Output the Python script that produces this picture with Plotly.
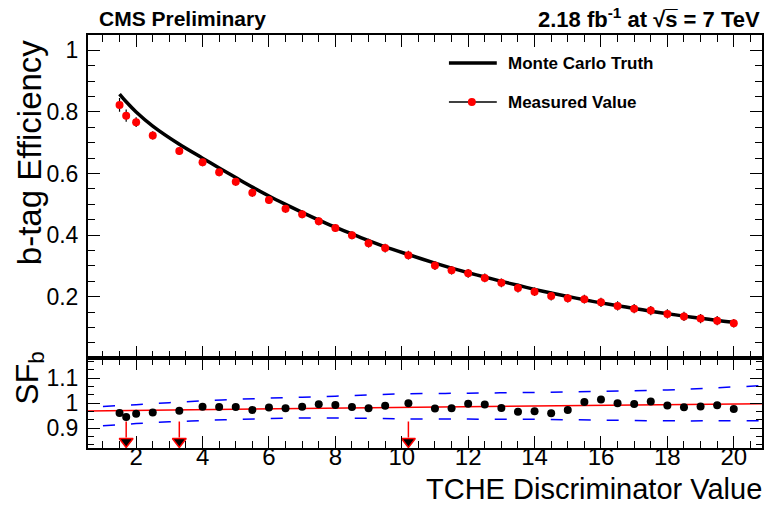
import plotly.graph_objects as go

# ---------------- data ----------------
x_pts = [1.5, 1.7, 2.0, 2.5, 3.3, 4.0, 4.5, 5.0, 5.5, 6.0, 6.5, 7.0, 7.5, 8.0, 8.5, 9.0, 9.5,
         10.2, 11.0, 11.5, 12.0, 12.5, 13.0, 13.5, 14.0, 14.5, 15.0, 15.5, 16.0, 16.5, 17.0,
         17.5, 18.0, 18.5, 19.0, 19.5, 20.0]
eff_meas = [0.823, 0.788, 0.767, 0.724, 0.673, 0.637, 0.604, 0.573, 0.538, 0.514, 0.486, 0.468,
            0.445, 0.423, 0.400, 0.374, 0.358, 0.335, 0.301, 0.286, 0.276, 0.261, 0.245, 0.228,
            0.216, 0.202, 0.195, 0.192, 0.182, 0.170, 0.161, 0.155, 0.144, 0.136, 0.129, 0.122,
            0.114]
eff_err = [0.022, 0.020, 0.016, 0.013, 0.013, 0.013, 0.013, 0.013, 0.013, 0.013, 0.013, 0.013,
           0.013, 0.013, 0.013, 0.014, 0.014, 0.014, 0.014, 0.014, 0.014, 0.014, 0.014, 0.014,
           0.014, 0.014, 0.014, 0.014, 0.015, 0.015, 0.015, 0.015, 0.015, 0.015, 0.015, 0.015,
           0.014]
eff_mc = [0.858, 0.833, 0.800, 0.754, 0.695, 0.650, 0.618, 0.587, 0.556, 0.527, 0.500, 0.474,
          0.449, 0.426, 0.404, 0.382, 0.362, 0.337, 0.309, 0.293, 0.278, 0.264, 0.250, 0.237,
          0.224, 0.212, 0.201, 0.190, 0.180, 0.171, 0.162, 0.153, 0.145, 0.137, 0.130, 0.123,
          0.117]
sf_vals = [0.960, 0.944, 0.957, 0.962, 0.970, 0.986, 0.985, 0.985, 0.973, 0.983, 0.980, 0.986,
           0.996, 0.993, 0.985, 0.980, 0.990, 1.000, 0.979, 0.980, 0.998, 0.995, 0.981, 0.965,
           0.968, 0.959, 0.973, 1.005, 1.015, 1.000, 0.997, 1.007, 0.991, 0.984, 0.987, 0.992,
           0.977]

fit_x = [0.55, 20.85]
fit_y = [0.969, 0.998]

band_x = [1.0, 2.0, 3.0, 4.0, 5.0, 6.0, 7.0, 8.0, 9.0, 10.0, 12.0, 14.0, 16.0, 18.0, 19.5, 20.85]
band_up = [0.987, 0.994, 1.002, 1.009, 1.015, 1.020, 1.024, 1.028, 1.033, 1.037, 1.040, 1.043,
           1.047, 1.053, 1.062, 1.070]
band_lo = [0.909, 0.918, 0.925, 0.930, 0.935, 0.938, 0.940, 0.940, 0.939, 0.937, 0.936, 0.935,
           0.932, 0.929, 0.929, 0.929]

op_points = [1.7, 3.3, 10.2]          # working points (arrows)
arrow_top, arrow_bot, arrow_head = 0.926, 0.862, 0.846

x_ticks = [2, 4, 6, 8, 10, 12, 14, 16, 18, 20]
eff_ticks = [0.2, 0.4, 0.6, 0.8, 1.0]
eff_ticktext = ["0.2", "0.4", "0.6", "0.8", "1"]
sf_ticks = [0.9, 1.0, 1.1]
sf_ticktext = ["0.9", "1", "1.1"]

FONT = "Liberation Sans, Arial, Helvetica, sans-serif"

fig = go.Figure()

# ---- upper panel ----
fig.add_trace(go.Scatter(x=x_pts, y=eff_mc, mode="lines",
                         line=dict(color="black", width=3.5, shape="spline", smoothing=0.8),
                         xaxis="x", yaxis="y", showlegend=False, hoverinfo="skip"))
fig.add_trace(go.Scatter(x=x_pts, y=eff_meas, mode="markers",
                         marker=dict(color="red", size=8),
                         error_y=dict(type="data", array=eff_err, color="black", thickness=1.2, width=0),
                         xaxis="x", yaxis="y", showlegend=False))

# ---- lower panel ----
fig.add_trace(go.Scatter(x=band_x, y=band_up, mode="lines", line=dict(color="blue", width=1.5, dash="12px,16px", shape="spline"),
                         xaxis="x2", yaxis="y2", showlegend=False, hoverinfo="skip"))
fig.add_trace(go.Scatter(x=band_x, y=band_lo, mode="lines", line=dict(color="blue", width=1.5, dash="12px,16px", shape="spline"),
                         xaxis="x2", yaxis="y2", showlegend=False, hoverinfo="skip"))
fig.add_trace(go.Scatter(x=fit_x, y=fit_y, mode="lines", line=dict(color="red", width=1.5),
                         xaxis="x2", yaxis="y2", showlegend=False, hoverinfo="skip"))
fig.add_trace(go.Scatter(x=x_pts, y=sf_vals, mode="markers", marker=dict(color="black", size=8),
                         xaxis="x2", yaxis="y2", showlegend=False))
ax, ay = [], []
for xp in op_points:
    ax += [xp, xp, None]
    ay += [arrow_top, arrow_bot, None]
fig.add_trace(go.Scatter(x=ax, y=ay, mode="lines", line=dict(color="red", width=1.5),
                         xaxis="x2", yaxis="y2", showlegend=False, hoverinfo="skip"))
fig.add_trace(go.Scatter(x=op_points, y=[arrow_head] * len(op_points), mode="markers",
                         marker=dict(symbol="triangle-down", size=12, color="black",
                                     line=dict(color="red", width=1.5)),
                         xaxis="x2", yaxis="y2", showlegend=False, cliponaxis=False))

split = 0.2172
common_x = dict(range=[0.55, 20.85], tickvals=x_ticks, ticks="inside", ticklen=12, tickwidth=1.2,
                tickcolor="black", showline=True, linecolor="black", linewidth=2, mirror="ticks",
                showgrid=False, zeroline=False,
                minor=dict(dtick=0.5, tick0=0, ticks="inside", ticklen=7, tickcolor="black", tickwidth=1, showgrid=False))

# The page body has an 8px margin, so the figure is 8px smaller on each axis
fig.update_layout(
    width=765, height=502,
    margin=dict(l=80, r=9, t=27, b=62),
    paper_bgcolor="white", plot_bgcolor="white",
    font=dict(family=FONT, color="black"),
    xaxis=dict(domain=[0, 1], anchor="y", showticklabels=False, **common_x),
    yaxis=dict(domain=[split, 1], anchor="x", range=[0.0, 1.05], tickvals=eff_ticks,
               ticktext=eff_ticktext,
               ticks="inside", ticklen=12, tickwidth=1.2, tickcolor="black",
               showline=True, linecolor="black", linewidth=2, mirror="ticks",
               showgrid=False, zeroline=False, tickfont=dict(size=23, family=FONT),
               ticklabelstandoff=3,
               minor=dict(dtick=0.05, tick0=0, ticks="inside", ticklen=7, tickcolor="black", tickwidth=1, showgrid=False)),
    xaxis2=dict(domain=[0, 1], anchor="y2", showticklabels=True, tickfont=dict(size=24, family=FONT),
                ticklabelstandoff=-14, **common_x),
    yaxis2=dict(domain=[0, split], anchor="x2", range=[0.82, 1.18], tickvals=sf_ticks,
                ticktext=sf_ticktext,
                ticks="inside", ticklen=12, tickwidth=1.2, tickcolor="black",
                showline=True, linecolor="black", linewidth=2, mirror="ticks",
                showgrid=False, zeroline=False, tickfont=dict(size=23, family=FONT),
                ticklabelstandoff=3,
                minor=dict(dtick=1/30, tick0=0.8, ticks="inside", ticklen=6, tickcolor="black", tickwidth=1, showgrid=False)),
)

# helpers: page pixel -> paper coordinates (plot area spans x 88..764, y 35..448 on the page)
def px_x(p):
    return (p - 88) / 676.0

def px_y(p):
    return (448 - p) / 413.0

ann = [
    dict(text="<b>CMS Preliminary</b>", x=px_x(97), y=px_y(18), xanchor="left", yanchor="middle",
         font=dict(size=21)),
    dict(text="<b>2.18 fb<sup>-1</sup> at √s\u0305 = 7 TeV</b>",
         x=px_x(764), y=px_y(18), xanchor="right", yanchor="middle", font=dict(size=22)),
    dict(text="TCHE Discriminator Value", x=px_x(766), y=px_y(489), xanchor="right", yanchor="middle",
         font=dict(size=29)),
    dict(text="b-tag Efficiency", x=px_x(29), y=px_y(37), xanchor="center", yanchor="top",
         textangle=-90, font=dict(size=33)),
    dict(text="SF<sub>b</sub>", x=px_x(29), y=px_y(350), xanchor="center", yanchor="top",
         textangle=-90, font=dict(size=32)),
    dict(text="<b>Monte Carlo Truth</b>", x=px_x(507), y=px_y(63), xanchor="left", yanchor="middle",
         font=dict(size=17)),
    dict(text="<b>Measured Value</b>", x=px_x(507), y=px_y(102), xanchor="left", yanchor="middle",
         font=dict(size=17)),
]
for a in ann:
    a.update(xref="paper", yref="paper", showarrow=False)
fig.update_layout(annotations=ann)

shapes = [
    dict(type="line", xref="paper", yref="paper", x0=px_x(450), x1=px_x(498), y0=px_y(63), y1=px_y(63),
         line=dict(color="black", width=3.5)),
    dict(type="line", xref="paper", yref="paper", x0=px_x(450), x1=px_x(498), y0=px_y(102), y1=px_y(102),
         line=dict(color="black", width=1.3)),
    dict(type="circle", xref="paper", yref="paper", x0=px_x(469), x1=px_x(477), y0=px_y(106), y1=px_y(98),
         fillcolor="red", line=dict(color="red", width=0)),
]
fig.update_layout(shapes=shapes)

fig.write_html("out.html")
